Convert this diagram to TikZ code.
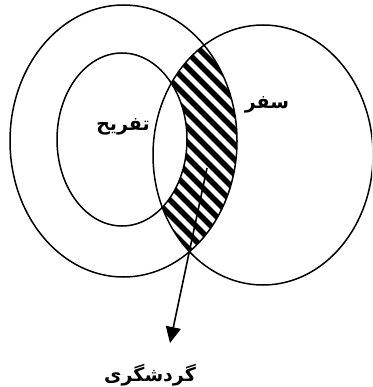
\documentclass[tikz,border=0pt]{standalone}
\usepackage{fontspec}
\newfontfamily\arabicfont[Script=Arabic]{DejaVu Sans}
\TeXXeTstate=1
\usetikzlibrary{shapes.geometric,arrows.meta}
\begin{document}
\begin{tikzpicture}[x=1pt,y=-1pt,
  ring/.style={draw,ellipse,inner sep=0pt,line width=1.5pt},
  lbl/.style={font=\arabicfont\bfseries\fontsize{19}{22}\selectfont,inner sep=0pt},
  hatchline/.style={line width=5.5pt,black}]
\useasboundingbox (0,0) rectangle (372,387);
\clip (0,0) rectangle (372,387);
% hatched region: (big left ∩ right) minus inner
\begin{scope}
  \clip (123.5,141) ellipse [x radius=113.5, y radius=136];
  \clip (263,155) ellipse [x radius=110, y radius=130];
  \foreach \c in {-300,-285,...,300}
    \draw[hatchline] (\c,0) -- ++(400,400);
  \fill[white] (122,139.5) ellipse [x radius=65, y radius=86.5];
\end{scope}
\node[ring,minimum width=227pt,minimum height=272pt] (big) at (123.5,141) {};
\node[ring,minimum width=130pt,minimum height=173pt] (inner) at (122,139.5) {};
\node[ring,minimum width=220pt,minimum height=260pt] (right) at (263,155) {};
\node[lbl] (tafrih) at (123,127) {\beginR تفریح\endR};
\node[lbl] (safar) at (267,105) {\beginR سفر\endR};
\node[lbl,anchor=south] (gardesh) at (150,386) {\beginR گردشگری\endR};
\coordinate (src) at (207,168);
\coordinate (tip) at (170,343);
\draw[line width=1.6pt,-{Triangle[length=16pt,width=15pt]}] (src) -- (tip);
\end{tikzpicture}
\end{document}
